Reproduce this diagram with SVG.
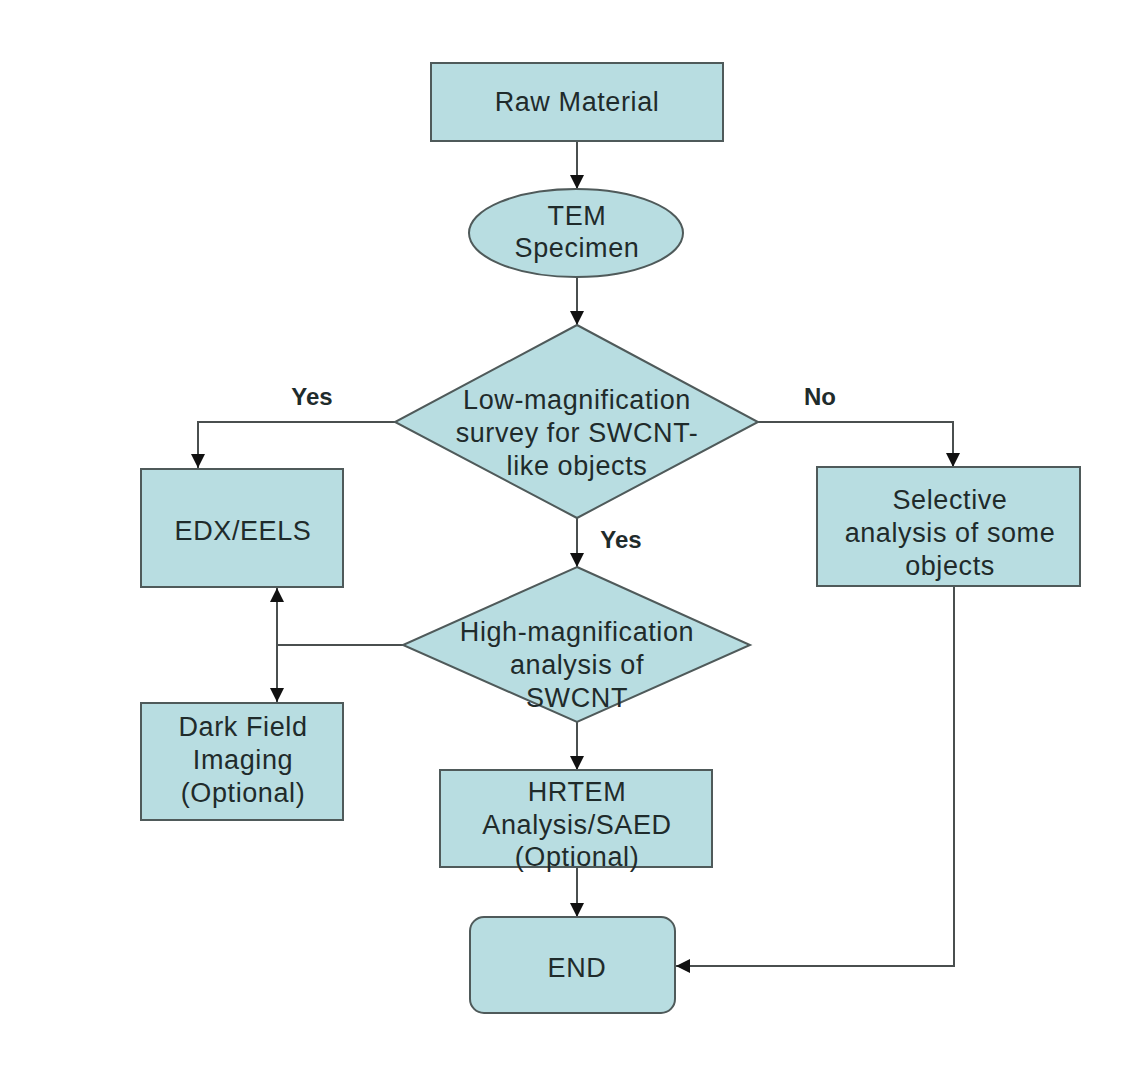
<svg xmlns="http://www.w3.org/2000/svg" width="1133" height="1085" viewBox="0 0 1133 1085">
<defs>
<style>
.n{fill:#b8dde1;stroke:#4f5a5a;stroke-width:2}
.t{font-family:"Liberation Sans",Arial,sans-serif;font-size:27px;letter-spacing:0.6px;fill:#1f2b2b;text-anchor:middle}
.l{font-family:"Liberation Sans",Arial,sans-serif;font-size:24px;font-weight:bold;fill:#1f2b2b;text-anchor:middle}
.c{fill:none;stroke:#4a4f4f;stroke-width:2}
</style>
<marker id="a" viewBox="0 0 10 10" refX="10" refY="5" markerWidth="14" markerHeight="14" markerUnits="userSpaceOnUse" orient="auto-start-reverse">
<path d="M0,0 L10,5 L0,10 Z" fill="#111"/>
</marker>
</defs>
<rect width="1133" height="1085" fill="#fff"/>
<g id="connectors">
<line class="c" x1="577" y1="141" x2="577" y2="189" marker-end="url(#a)"/>
<line class="c" x1="577" y1="277" x2="577" y2="325" marker-end="url(#a)"/>
<polyline class="c" points="395,422 198,422 198,468" marker-end="url(#a)"/>
<polyline class="c" points="758,422 953,422 953,467" marker-end="url(#a)"/>
<line class="c" x1="577" y1="518" x2="577" y2="567" marker-end="url(#a)"/>
<line class="c" x1="277" y1="588" x2="277" y2="702" marker-start="url(#a)" marker-end="url(#a)"/>
<line class="c" x1="277" y1="645" x2="403" y2="645"/>
<line class="c" x1="577" y1="722" x2="577" y2="770" marker-end="url(#a)"/>
<line class="c" x1="577" y1="867" x2="577" y2="917" marker-end="url(#a)"/>
<polyline class="c" points="954,586 954,966 676,966" marker-end="url(#a)"/>
<text class="l" x="312" y="405">Yes</text>
<text class="l" x="820" y="405">No</text>
<text class="l" x="621" y="548">Yes</text>
</g>
<g id="raw">
<rect class="n" x="431" y="63" width="292" height="78"/>
<text class="t" x="577" y="111">Raw Material</text>
</g>
<g id="tem">
<ellipse class="n" cx="576" cy="233" rx="107" ry="44"/>
<text class="t" x="577" y="225">TEM</text>
<text class="t" x="577" y="257">Specimen</text>
</g>
<g id="low">
<polygon class="n" points="577,325 758,422 577,518 395,422"/>
<text class="t" x="577" y="409">Low-magnification</text>
<text class="t" x="577" y="442">survey for SWCNT-</text>
<text class="t" x="577" y="475">like objects</text>
</g>
<g id="edx">
<rect class="n" x="141" y="469" width="202" height="118"/>
<text class="t" x="243" y="540">EDX/EELS</text>
</g>
<g id="selective">
<rect class="n" x="817" y="467" width="263" height="119"/>
<text class="t" x="950" y="509">Selective</text>
<text class="t" x="950" y="542">analysis of some</text>
<text class="t" x="950" y="575">objects</text>
</g>
<g id="high">
<polygon class="n" points="577,567 750,645 577,722 403,645"/>
<text class="t" x="577" y="641">High-magnification</text>
<text class="t" x="577" y="674">analysis of</text>
<text class="t" x="577" y="707">SWCNT</text>
</g>
<g id="dark">
<rect class="n" x="141" y="703" width="202" height="117"/>
<text class="t" x="243" y="736">Dark Field</text>
<text class="t" x="243" y="769">Imaging</text>
<text class="t" x="243" y="802">(Optional)</text>
</g>
<g id="hrtem">
<rect class="n" x="440" y="770" width="272" height="97"/>
<text class="t" x="577" y="801">HRTEM</text>
<text class="t" x="577" y="834">Analysis/SAED</text>
<text class="t" x="577" y="866">(Optional)</text>
</g>
<g id="end">
<rect class="n" x="470" y="917" width="205" height="96" rx="14"/>
<text class="t" x="577" y="977">END</text>
</g>
</svg>
